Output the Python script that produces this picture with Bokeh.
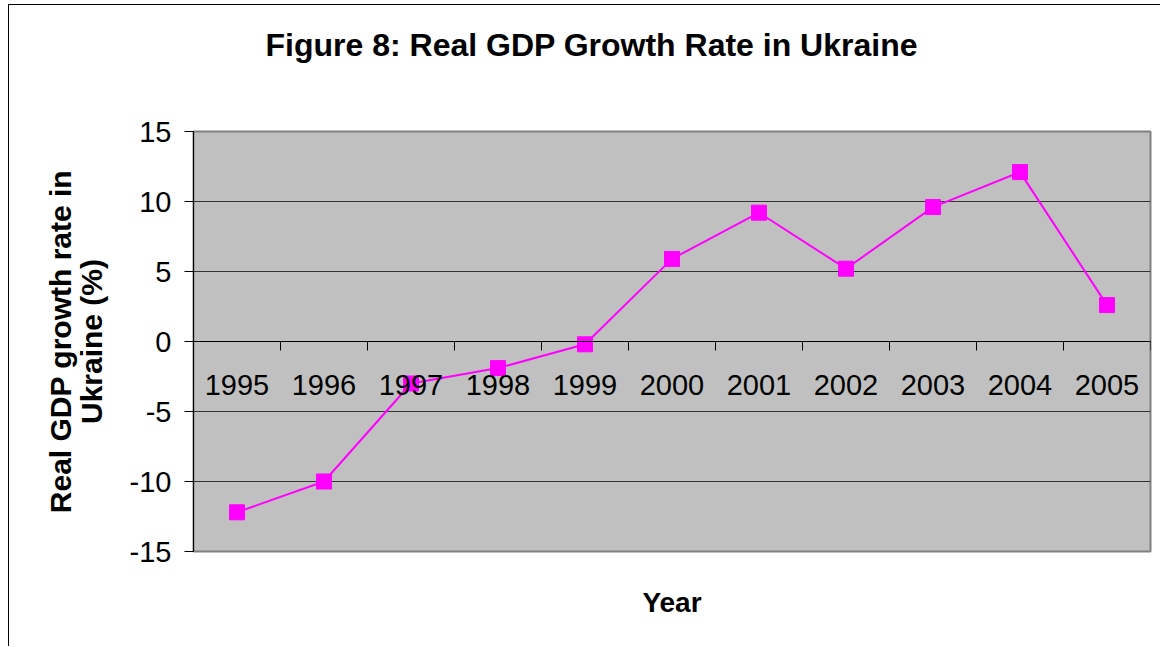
from bokeh.plotting import figure
from bokeh.models import (Range1d, LinearAxis, FixedTicker, Title,
                          ColumnDataSource)
from bokeh.embed import file_html
from bokeh.resources import INLINE

years = ["1995", "1996", "1997", "1998", "1999", "2000",
         "2001", "2002", "2003", "2004", "2005"]
growth = [-12.2, -10.0, -3.0, -1.9, -0.2, 5.9, 9.2, 5.2, 9.6, 12.1, 2.6]
y_ticks = [-15, -10, -5, 0, 5, 10, 15]

FONT = "Liberation Sans"
n = len(years)
x_pos = list(range(n))

p = figure(width=1152, height=642, output_backend="svg", toolbar_location=None,
           x_range=Range1d(-0.5, n - 0.5), y_range=Range1d(-15, 15),
           min_border_left=184, min_border_right=11, min_border_top=126,
           min_border_bottom=96)
p.styles = {"border-left": "1px solid black", "border-top": "1px solid black",
            "margin-left": "8px", "margin-top": "4px"}
p.background_fill_color = "#C0C0C0"
p.border_fill_color = "white"
p.outline_line_color = "#808080"
p.outline_line_width = 2

src = ColumnDataSource(dict(x=x_pos, y=growth))
p.line("x", "y", source=src, line_color="#FF00FF", line_width=2)
p.scatter("x", "y", source=src, marker="square", size=15,
          fill_color="#FF00FF", line_color="#FF00FF")

# grid
p.xgrid.grid_line_color = None
p.ygrid.ticker = FixedTicker(ticks=y_ticks)
p.ygrid.grid_line_color = "#333333"
p.ygrid.grid_line_width = 1

# y axis
ya = p.yaxis[0]
ya.ticker = FixedTicker(ticks=y_ticks)
ya.major_label_overrides = {t: str(t) for t in y_ticks}
ya.major_tick_out = 9
ya.major_tick_in = 0
ya.minor_tick_line_color = None
ya.axis_line_color = "black"
ya.major_tick_line_color = "black"
ya.major_label_text_font = FONT
ya.major_label_text_font_size = "29px"
ya.major_label_text_color = "black"
ya.major_label_standoff = 13
ya.axis_label = "Real GDP growth rate in\nUkraine (%)"
ya.axis_label_text_font = FONT
ya.axis_label_text_font_size = "30px"
ya.axis_label_text_font_style = "bold"
ya.axis_label_text_color = "black"
ya.axis_label_text_line_height = 0.92
ya.axis_label_standoff = 19

# category labels axis at y = 0
xa = p.xaxis[0]
xa.fixed_location = 0
xa.ticker = FixedTicker(ticks=x_pos)
xa.major_label_overrides = {i: y for i, y in zip(x_pos, years)}
xa.major_tick_line_color = None
xa.minor_tick_line_color = None
xa.major_tick_out = 0
xa.major_tick_in = 0
xa.axis_line_color = "black"
xa.major_label_text_font = FONT
xa.major_label_text_font_size = "29px"
xa.major_label_text_color = "black"
xa.major_label_standoff = 33

# boundary ticks between categories
bx = LinearAxis(ticker=FixedTicker(ticks=[i - 0.5 for i in range(n + 1)]),
                fixed_location=0, major_tick_out=9, major_tick_in=0,
                major_label_text_font_size="0px", minor_tick_line_color=None,
                axis_line_color="black", major_tick_line_color="black")
p.add_layout(bx, "below")

# white spacers (drawn in the white margin) to push the titles away from the frame
p.add_layout(Title(text=".", text_font=FONT, text_font_size="82px",
                   text_color="white", standoff=0, align="left", offset=-170),
             "above")
p.add_layout(Title(text=".", text_font=FONT, text_font_size="35px",
                   text_color="white", standoff=0, align="left", offset=-170),
             "below")

# title and x label
p.add_layout(Title(text="Figure 8: Real GDP Growth Rate in Ukraine",
                   text_font=FONT, text_font_size="32px", text_font_style="bold",
                   align="left", offset=72, standoff=20,
                   text_color="black"), "above")
p.add_layout(Title(text="Year", text_font=FONT, text_font_size="28px",
                   text_font_style="bold", align="center", standoff=14,
                   text_color="black"), "below")

open("out.html", "w").write(file_html(p, INLINE))
